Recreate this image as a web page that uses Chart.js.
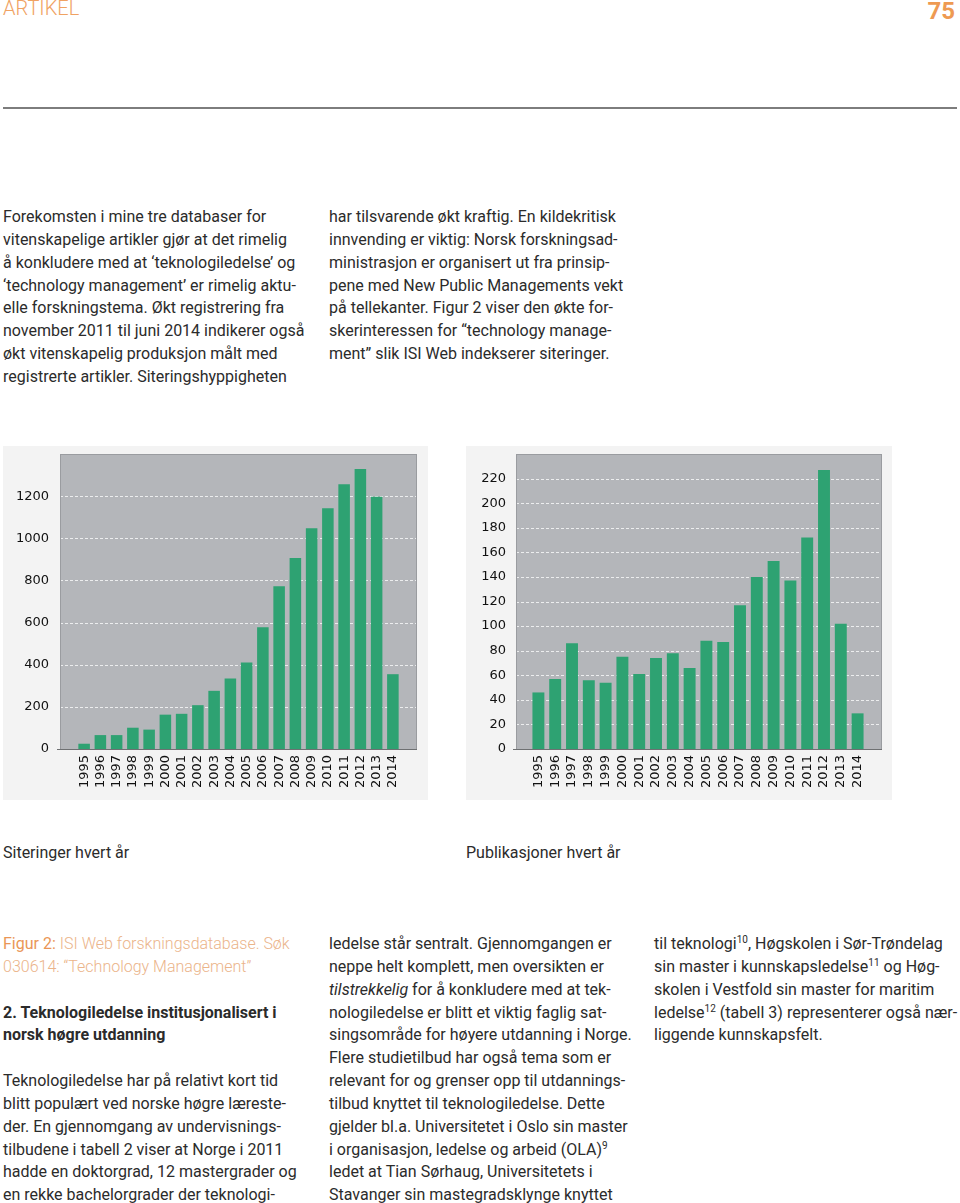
<!DOCTYPE html>
<html>
<head>
<meta charset="utf-8">
<script src="https://cdn.jsdelivr.net/npm/chart.js@4"></script>
<style>
  body { margin: 0; background: #fff; width: 960px; height: 1203px; overflow: hidden; position: relative;
         font-family: Roboto, "Liberation Sans", sans-serif; color: #2b2b2b; }
  .abs { position: absolute; }
  .txt { font-size: 16px; line-height: 22.85px; white-space: nowrap; }
  .txt sup { font-size: 10px; line-height: 0; vertical-align: 6px; }
  .head { top: -4px; left: 3px; font-size: 20px; color: #f0a262; font-weight: 300; }
  .pg { top: -3px; right: 5px; font-size: 24px; color: #ee9a52; font-weight: 700; }
  .rule { top: 107px; left: 3px; width: 954px; height: 2px; background: #7d7d7d; }
  .box { background: #f3f3f3; }
  .cap1 { color: #ea9656; }
  .cap2 { color: #ebb48a; font-weight: 300; }
</style>
</head>
<body>
<div class="abs head">ARTIKEL</div>
<div class="abs pg">75</div>
<div class="abs rule"></div>

<div class="abs txt" style="left:3px; top:206px;">Forekomsten i mine tre databaser for<br>vitenskapelige artikler gjør at det rimelig<br>å konkludere med at ‘teknologiledelse’ og<br>‘technology management’ er rimelig aktu-<br>elle forskningstema. Økt registrering fra<br>november 2011 til juni 2014 indikerer også<br>økt vitenskapelig produksjon målt med<br>registrerte artikler. Siteringshyppigheten</div>
<div class="abs txt" style="left:329px; top:206px;">har tilsvarende økt kraftig. En kildekritisk<br>innvending er viktig: Norsk forskningsad-<br>ministrasjon er organisert ut fra prinsip-<br>pene med New Public Managements vekt<br>på tellekanter. Figur 2 viser den økte for-<br>skerinteressen for “technology manage-<br>ment” slik ISI Web indekserer siteringer.</div>

<div class="abs box" style="left:3px; top:446px; width:425px; height:354px;"><canvas id="chart1" width="425" height="354"></canvas></div>
<div class="abs box" style="left:466px; top:446px; width:426px; height:354px;"><canvas id="chart2" width="426" height="354"></canvas></div>

<div class="abs txt" style="left:3px; top:842px;">Siteringer hvert år</div>
<div class="abs txt" style="left:466px; top:842px;">Publikasjoner hvert år</div>

<div class="abs txt" style="left:3px; top:933px;"><span class="cap1">Figur 2:</span> <span class="cap2">ISI Web forskningsdatabase. Søk</span><br><span class="cap2">030614: “Technology Management”</span><br>&nbsp;<br><b>2. Teknologiledelse institusjonalisert i<br>norsk høgre utdanning</b><br>&nbsp;<br>Teknologiledelse har på relativt kort tid<br>blitt populært ved norske høgre læreste-<br>der. En gjennomgang av undervisnings-<br>tilbudene i tabell 2 viser at Norge i 2011<br>hadde en doktorgrad, 12 mastergrader og<br>en rekke bachelorgrader der teknologi-</div>
<div class="abs txt" style="left:329px; top:933px;">ledelse står sentralt. Gjennomgangen er<br>neppe helt komplett, men oversikten er<br><i>tilstrekkelig</i> for å konkludere med at tek-<br>nologiledelse er blitt et viktig faglig sat-<br>singsområde for høyere utdanning i Norge.<br>Flere studietilbud har også tema som er<br>relevant for og grenser opp til utdannings-<br>tilbud knyttet til teknologiledelse. Dette<br>gjelder bl.a. Universitetet i Oslo sin master<br>i organisasjon, ledelse og arbeid (OLA)<sup>9</sup><br>ledet at Tian Sørhaug, Universitetets i<br>Stavanger sin mastegradsklynge knyttet</div>
<div class="abs txt" style="left:654px; top:933px;">til teknologi<sup>10</sup>, Høgskolen i Sør-Trøndelag<br>sin master i kunnskapsledelse<sup>11</sup> og Høg-<br>skolen i Vestfold sin master for maritim<br>ledelse<sup>12</sup> (tabell 3) representerer også nær-<br>liggende kunnskapsfelt.</div>

<script>
const years = ['1995','1996','1997','1998','1999','2000','2001','2002','2003','2004',
               '2005','2006','2007','2008','2009','2010','2011','2012','2013','2014'];
const siteringer = [25, 66, 66, 101, 92, 163, 167, 208, 276, 335,
                    411, 578, 772, 906, 1048, 1143, 1257, 1329, 1197, 355];
const publikasjoner = [46, 57, 86, 56, 54, 75, 61, 74, 78, 66,
                       88, 87, 117, 140, 153, 137, 172, 227, 102, 29];

// grå plottflate som går litt utenfor søylene, med stiplede hjelpelinjer
const plotBg = {
    id: 'plotBg',
    beforeDraw(chart, args, opts) {
        const ctx = chart.ctx;
        const a = chart.chartArea;
        const y = chart.scales.y;
        const l = a.left - opts.padL, r = a.right + opts.padR;
        ctx.save();
        ctx.fillStyle = '#b4b6ba';
        ctx.fillRect(l, a.top, r - l, a.bottom - a.top);
        ctx.strokeStyle = 'rgba(255,255,255,0.75)';
        ctx.lineWidth = 1;
        ctx.setLineDash([3, 2]);
        y.ticks.forEach(function (t) {
            if (t.value > 0 && t.value <= opts.lastTick) {
                const py = Math.round(y.getPixelForValue(t.value)) + 0.5;
                ctx.beginPath();
                ctx.moveTo(l, py);
                ctx.lineTo(r, py);
                ctx.stroke();
            }
        });
        ctx.setLineDash([]);
        ctx.strokeStyle = '#9a9ca0';
        ctx.strokeRect(l + 0.5, a.top + 0.5, r - l - 1, a.bottom - a.top);
        ctx.strokeStyle = '#6e7072';
        ctx.beginPath();
        ctx.moveTo(l - 3, a.bottom + 0.5);
        ctx.lineTo(r, a.bottom + 0.5);
        ctx.stroke();
        ctx.restore();
    }
};

function lagGraf(id, data, maks, steg, siste, yBredde, lPad, rPad, labelPad) {
    const ctx = document.getElementById(id).getContext('2d');
    return new Chart(ctx, {
        type: 'bar',
        data: {
            labels: years,
            datasets: [{
                data: data,
                backgroundColor: '#2ea272',
                borderWidth: 0,
                barPercentage: 0.71,
                categoryPercentage: 1
            }]
        },
        plugins: [plotBg],
        options: {
            responsive: false,
            animation: false,
            layout: { padding: { top: 8, right: rPad, left: 0, bottom: 0 } },
            plugins: {
                legend: { display: false },
                tooltip: { enabled: false },
                plotBg: { padL: lPad, padR: 16, lastTick: siste }
            },
            scales: {
                x: {
                    grid: { display: false, drawTicks: false },
                    border: { display: false },
                    ticks: {
                        autoSkip: false, minRotation: 90, maxRotation: 90, padding: 6,
                        color: '#111', font: { family: 'DejaVu Sans', size: 13 }
                    },
                    afterFit: function (s) { s.height = 51; s.paddingLeft = 0; s.paddingRight = 0; }
                },
                y: {
                    min: 0, max: maks,
                    grid: { display: false, drawTicks: false },
                    border: { display: false },
                    ticks: {
                        stepSize: steg, padding: labelPad,
                        color: '#111', font: { family: 'DejaVu Sans', size: 13 },
                        callback: function (v) { return v > siste ? '' : v; }
                    },
                    afterFit: function (s) { s.width = yBredde; s.paddingTop = 0; s.paddingBottom = 0; }
                }
            }
        }
    });
}

lagGraf('chart1', siteringer, 1400, 200, 1200, 73, 16, 27, 27);
lagGraf('chart2', publikasjoner, 240, 20, 220, 64, 14, 26, 24);
</script>
</body>
</html>
